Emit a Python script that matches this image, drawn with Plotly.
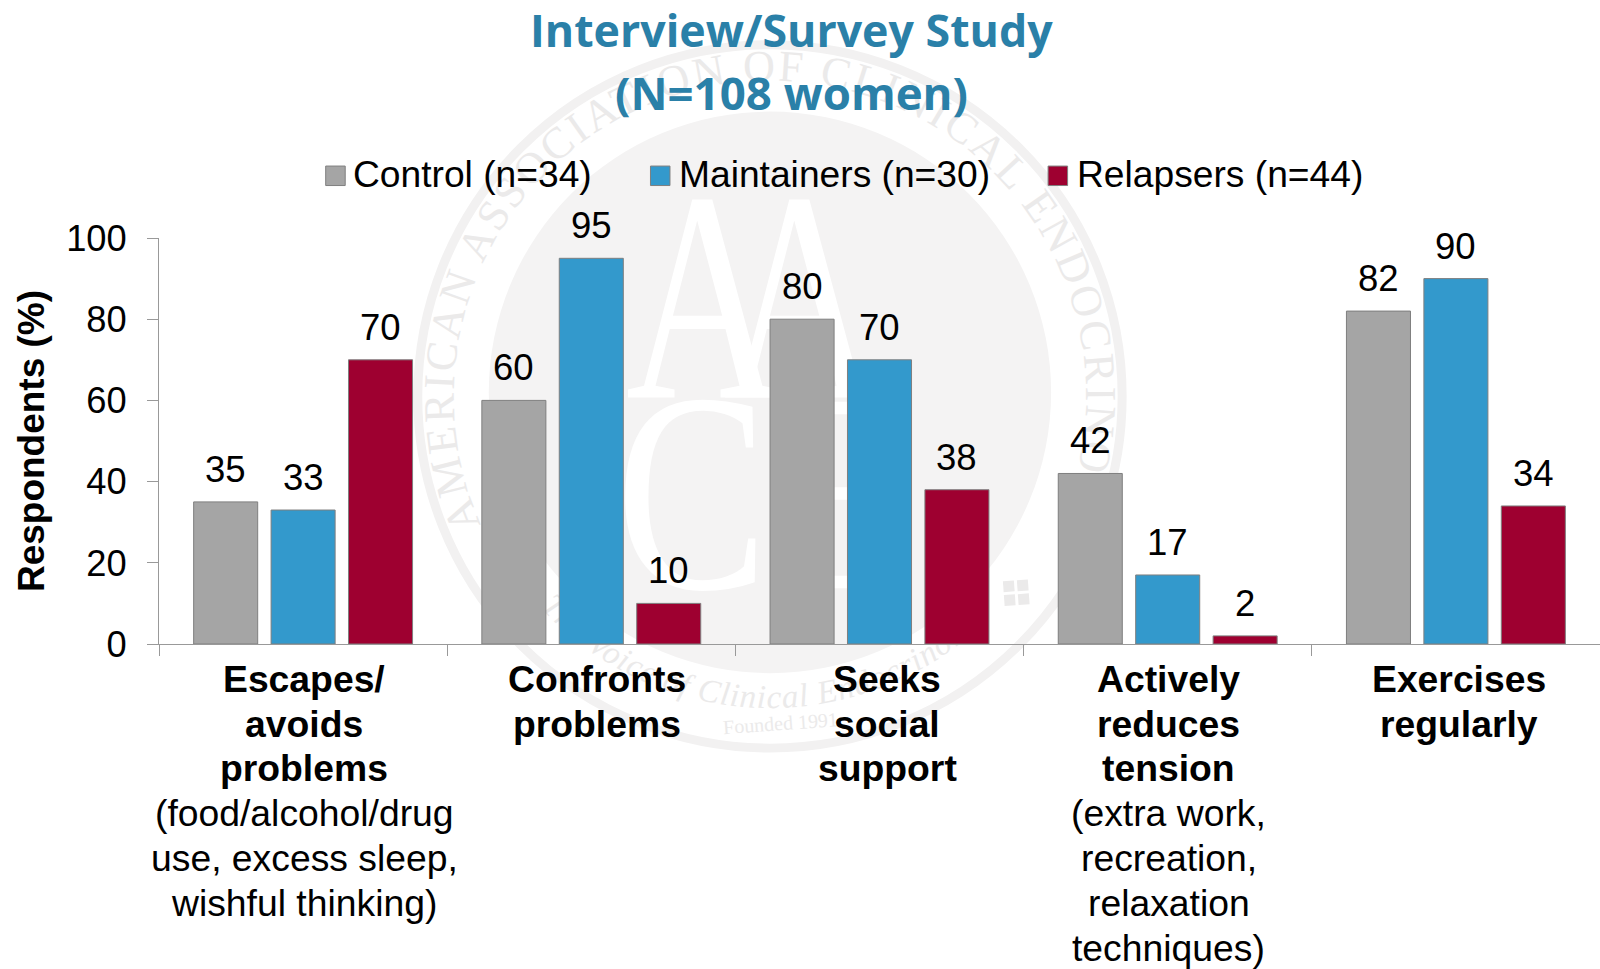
import base64
import plotly.graph_objects as go

categories = ["Escapes/avoids problems", "Confronts problems", "Seeks social support",
              "Actively reduces tension", "Exercises regularly"]
label_bold = [["Escapes/", "avoids", "problems"], ["Confronts", "problems"], ["Seeks", "social", "support"],
              ["Actively", "reduces", "tension"], ["Exercises", "regularly"]]
label_plain = [["(food/alcohol/drug", "use, excess sleep,", "wishful thinking)"], [], [],
               ["(extra work,", "recreation,", "relaxation", "techniques)"], []]
control = [35, 60, 80, 42, 82]
maintainers = [33, 95, 70, 17, 90]
relapsers = [70, 10, 38, 2, 34]
series_names = ["Control (n=34)", "Maintainers (n=30)", "Relapsers (n=44)"]
series_colors = ["#A5A5A5", "#3399CC", "#9E0030"]
title_lines = ["Interview/Survey Study", "(N=108 women)"]
y_title = "<b>Respondents (%)</b>"
seal_ring_text = "AMERICAN ASSOCIATION OF CLINICAL ENDOCRINOLOGISTS"
seal_motto = "The Voice of Clinical Endocrinology"
seal_founded = "Founded 1991"

W, H = 1600, 969
L, R, T, B = 159.4, 1599.6, 237.5, 643.8
FONT = "Liberation Sans, Arial, sans-serif"
SERIF = "Liberation Serif, serif"
BAR_STEP = 77.4
LINE = 44.8


def px(x):
    return (x - L) / (R - L)


def py(y):
    return (B - y) / (B - T)


# faint seal behind the chart
cx, cy = 770, 396
rt, rb = 316, 312
seal = f'''<svg xmlns="http://www.w3.org/2000/svg" width="{W}" height="{H}" viewBox="0 0 {W} {H}">
<defs>
<path id="top" d="M {cx-rt*0.914:.1f} {cy+rt*0.406:.1f} A {rt} {rt} 0 1 1 {cx+rt*0.914:.1f} {cy+rt*0.406:.1f}"/>
<path id="bot" d="M {cx-rb*0.72:.1f} {cy+rb*0.694:.1f} A {rb} {rb} 0 0 0 {cx+rb*0.72:.1f} {cy+rb*0.694:.1f}"/>
</defs>
<circle cx="{cx}" cy="{cy}" r="352" fill="none" stroke="#f2f1f1" stroke-width="9"/>
<circle cx="{cx}" cy="{cy-4}" r="281" fill="#f4f3f3"/>
<g font-family="{SERIF}" fill="#fff" font-size="300" text-anchor="middle">
<text transform="translate(704 397) scale(.72 1)">A</text>
<text transform="translate(801 397) scale(.72 1)">A</text>
<text transform="translate(692 588) scale(.76 .95)">C</text>
<text transform="translate(845 588) scale(.76 .95)">E</text>
</g>
<text font-family="{SERIF}" font-size="44" fill="#ebeaea" letter-spacing="2.8"><textPath href="#top" startOffset="0">{seal_ring_text}</textPath></text>
<text font-family="{SERIF}" font-style="italic" font-size="33" fill="#ebeaea" letter-spacing="1" text-anchor="middle"><textPath href="#bot" startOffset="50%">{seal_motto}</textPath></text>
<text x="{cx+11}" y="{cy+334}" font-family="{SERIF}" font-size="20" fill="#ebeaea" text-anchor="middle" transform="rotate(-4 {cx+11} {cy+334})">{seal_founded}</text>
<g fill="#ebeaea" transform="rotate(-4 1016 583)"><rect x="1003" y="580" width="11" height="11"/><rect x="1017" y="580" width="11" height="11"/><rect x="1003" y="594" width="11" height="11"/><rect x="1017" y="594" width="11" height="11"/></g>
</svg>'''
seal_uri = "data:image/svg+xml;base64," + base64.b64encode(seal.encode()).decode()

fig = go.Figure()
for name, vals, col in zip(series_names, [control, maintainers, relapsers], series_colors):
    fig.add_bar(name=name, x=categories, y=vals, marker=dict(color=col, line=dict(color="#7f7f7f", width=1)))

annotations = []
# title lines
for t, yc, size in zip(title_lines, [28.6, 90.9], [44.7, 45.6]):
    annotations.append(dict(x=px(791.3), y=py(yc), xref="paper", yref="paper", text=f"<b>{t}</b>", showarrow=False,
                            xanchor="center", yanchor="middle",
                            font=dict(family="Open Sans, sans-serif", size=size, color="#2A80A8")))
# value labels
for i, vals in enumerate([control, maintainers, relapsers]):
    for c, v in zip(categories, vals):
        annotations.append(dict(x=c, y=v, xref="x", yref="y", text=str(v), showarrow=False,
                                xshift=(i - 1) * BAR_STEP, yshift=32.5, yanchor="middle",
                                font=dict(size=36.5, color="#000")))
# category labels, one line at a time
label_shift = [1, 5.5, 7.5, 1, 3]
for c, bold, plain, dx in zip(categories, label_bold, label_plain, label_shift):
    lines = [f"<b>{t}</b>" for t in bold] + plain
    for n, t in enumerate(lines):
        annotations.append(dict(x=c, y=0, xref="x", yref="y", text=t, showarrow=False, xshift=dx,
                                yshift=-34.8 - n * LINE, yanchor="middle", font=dict(size=37.3, color="#000")))
# legend
shapes = []
legend_swatch_x = [326, 650.6, 1048]
legend_text_x = [354, 679.4, 1077.7]
for name, col, sx, tx in zip(series_names, series_colors, legend_swatch_x, legend_text_x):
    shapes.append(dict(type="rect", xref="paper", yref="paper",
                       x0=px(sx), x1=px(sx + 19.5), y0=py(185), y1=py(165.5),
                       fillcolor=col, line=dict(color="#7f7f7f", width=1)))
    annotations.append(dict(x=px(tx), y=py(173), xref="paper", yref="paper",
                            text=name, showarrow=False, xanchor="left", yanchor="middle", xshift=-2.5,
                            font=dict(size=37.2, color="#000")))

fig.update_layout(
    width=W, height=H, autosize=False,
    margin=dict(l=L, r=W - R, t=T, b=H - B, pad=0),
    paper_bgcolor="#fff", plot_bgcolor="rgba(0,0,0,0)",
    barmode="group", bargap=0.194, bargroupgap=0.173,
    font=dict(family=FONT, color="#000"),
    showlegend=False, annotations=annotations, shapes=shapes,
    images=[dict(source=seal_uri, xref="paper", yref="paper", x=-L / (R - L), y=B / (B - T),
                 sizex=W / (R - L), sizey=H / (B - T), xanchor="left", yanchor="top", layer="below", sizing="stretch")],
)
fig.update_xaxes(range=[-0.5, 4.5], tickson="boundaries", ticks="outside", ticklen=11, tickcolor="#999", tickwidth=1,
                 showline=True, linecolor="#999", linewidth=1, showticklabels=False, showgrid=False)
fig.update_yaxes(range=[0, 100], tick0=0, dtick=20, ticks="outside", ticklen=11, tickcolor="#999", tickwidth=1,
                 showline=True, linecolor="#999", linewidth=1, tickfont=dict(size=36.3, color="#000"), showgrid=False, zeroline=False,
                 ticklabelstandoff=13,
                 title=dict(text=y_title, font=dict(size=37, color="#000"), standoff=10))
fig.write_html("out.html", config={"displayModeBar": False},
               post_script="document.body.style.margin='0';document.body.style.overflow='hidden';")
